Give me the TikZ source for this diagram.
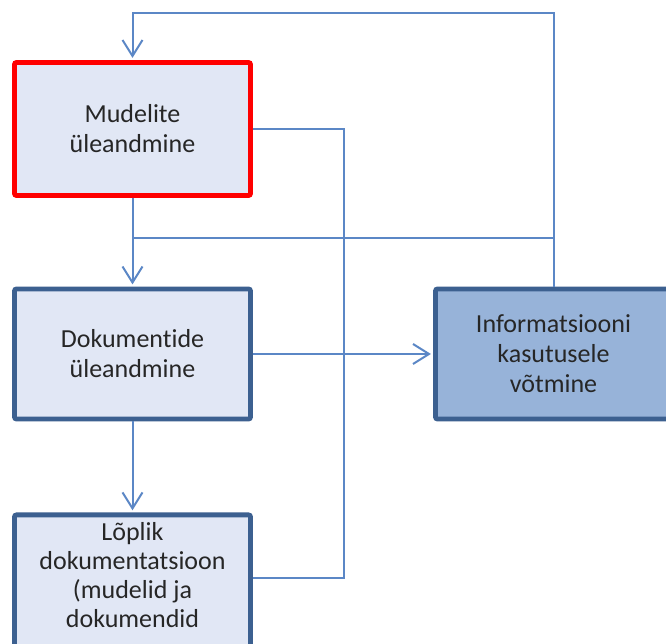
\documentclass[tikz,border=0pt]{standalone}
\usepackage{fontspec}
\setmainfont{Carlito}[Ligatures=NoCommon]
\usetikzlibrary{arrows.meta,calc,positioning}
\definecolor{boxline}{HTML}{3C6090}
\definecolor{boxfill}{HTML}{E1E7F5}
\definecolor{infofill}{HTML}{97B3D9}
\definecolor{linkblue}{HTML}{5B87C6}
\begin{document}
\begin{tikzpicture}[
  x=0.5pt, y=0.5pt,
  every node/.style={font=\fontsize{13pt}{15pt}\selectfont, align=center, text=black!85},
  stage/.style={rectangle, rounded corners=1pt, draw=boxline, line width=2.4pt, fill=boxfill,
    minimum width=118pt, minimum height=65pt, inner sep=0pt},
  link/.style={draw=linkblue, line width=1pt},
  tip/.style={link, -{Straight Barb[length=8pt,width=10pt]}, shorten >=1.1pt}
]
\useasboundingbox (0,0) rectangle (666,644);
\clip (0,0) rectangle (666,644);
\fill[white] (0,0) rectangle (666,644);

\node[stage, draw=red, minimum height=66.5pt] (box1) at (132.5,515) {Mudelite\\üleandmine};
\node[stage] (box2) at (132.5,290) {Dokumentide\\üleandmine};
\node[stage, fill=infofill] (box4) at (553.5,290) {Informatsiooni\\kasutusele\\võtmine};
\node[stage, anchor=north, inner ysep=4pt, text depth=60pt,
  font=\fontsize{13pt}{14.4pt}\selectfont] (box3) at (132.5,131.5)
  {Lõplik\\dokumentatsioon\\(mudelid ja\\dokumendid};

\coordinate (topline) at (0,631);
\coordinate (midline) at (0,406);
\coordinate (sideline) at (344,0);
\coordinate (box3in) at ($(box3.north east)+(0,-65.5)$);

\draw[tip] (box4.north) -- (box4.north |- topline) -- (box1.north |- topline) -- (box1.north);
\draw[tip] (box1.south) -- (box2.north);
\draw[link] (box1.south |- midline) -- (box4.north |- midline);
\draw[link] (box1.east) -- (sideline |- box1.east) -- (sideline |- box3in) -- (box3in);
\draw[tip] (box2.east) -- (box4.west);
\draw[tip] (box2.south) -- (box3.north);
\end{tikzpicture}
\end{document}
